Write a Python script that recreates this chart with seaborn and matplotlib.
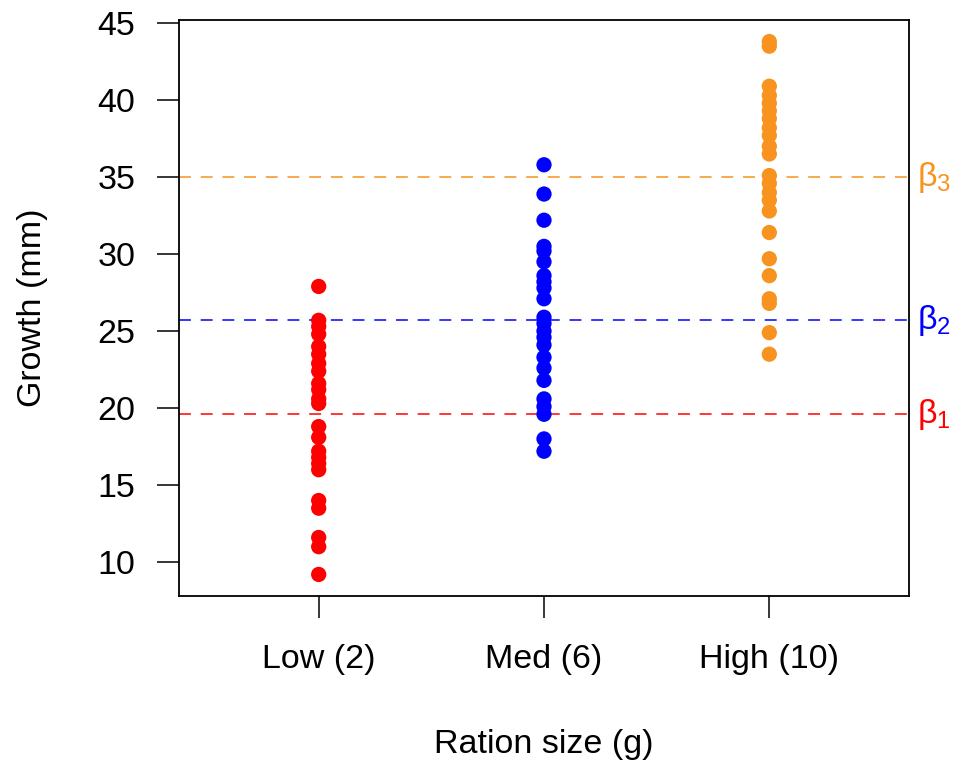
import numpy as np
import pandas as pd
import seaborn as sns
import matplotlib.pyplot as plt

# Data
groups = ['Low (2)', 'Med (6)', 'High (10)']
low_growth = [27.9, 25.7, 25.3, 24.8, 24.0, 23.5, 22.9, 22.4, 21.6, 21.2, 20.6, 20.3,
              18.8, 18.1, 17.2, 16.8, 16.4, 16.0, 14.0, 13.5, 11.6, 11.0, 9.2]
med_growth = [35.8, 33.9, 32.2, 30.5, 30.2, 29.5, 28.6, 28.2, 27.8, 27.1, 25.9, 25.5,
              25.0, 24.6, 24.1, 23.3, 22.6, 21.8, 20.6, 20.1, 19.6, 18.0, 17.2]
high_growth = [43.8, 43.5, 40.9, 40.3, 39.8, 39.3, 38.8, 38.2, 37.7, 37.0, 36.5, 35.1,
               34.6, 34.0, 33.5, 32.8, 31.4, 29.7, 28.6, 27.1, 26.8, 24.9, 23.5]
betas = [19.6, 25.7, 35.0]
beta_labels = [r'$\beta_1$', r'$\beta_2$', r'$\beta_3$']
colors = ['#ff0000', '#0000ff', '#f7931e']
y_ticks = [10, 15, 20, 25, 30, 35, 40, 45]

df = pd.DataFrame({
    'ration': [groups[0]] * len(low_growth) + [groups[1]] * len(med_growth) + [groups[2]] * len(high_growth),
    'growth': low_growth + med_growth + high_growth,
})

sns.set_style('white')
plt.rcParams['font.family'] = ['Liberation Sans', 'DejaVu Sans']
plt.rcParams['mathtext.fontset'] = 'custom'
plt.rcParams['mathtext.rm'] = 'Liberation Sans'
plt.rcParams['mathtext.it'] = 'Liberation Sans'
plt.rcParams['text.color'] = 'black'
plt.rcParams['axes.labelcolor'] = 'black'

fs = 24.5

fig, ax = plt.subplots(figsize=(9.55, 7.67), dpi=100)
fig.subplots_adjust(left=179 / 955, right=909 / 955, top=1 - 20 / 767, bottom=1 - 596 / 767)

sns.stripplot(data=df, x='ration', y='growth', hue='ration', order=groups, hue_order=groups,
              palette=colors, jitter=False, size=11, linewidth=0, legend=False, ax=ax, zorder=3)

# horizontal lines for the group means
for b, lab, c in zip(betas, beta_labels, colors):
    ax.axhline(b, color=c, lw=1.1, linestyle=(0, (7.8, 6.4)), zorder=2)
    ax.text(1.011, b, lab, color=c, fontsize=fs, va='center', ha='left',
            transform=ax.get_yaxis_transform())

ax.set_xlim(-0.62, 2.62)
ax.set_ylim(7.8, 45.2)
ax.set_yticks(y_ticks)

for s in ax.spines.values():
    s.set_visible(True)
    s.set_color('black')
    s.set_linewidth(1.3)

ax.tick_params(axis='both', direction='out', length=15.5, width=1.1, color='black',
               labelsize=fs, labelcolor='black', left=True, bottom=True)
ax.tick_params(axis='y', pad=16)
ax.tick_params(axis='x', pad=19)

ax.set_xlabel('Ration size (g)', fontsize=fs, color='black')
ax.set_ylabel('Growth (mm)', fontsize=fs, color='black')
ax.xaxis.set_label_coords(0.5, -(745 - 596) / 576)
ax.xaxis.label.set_va('center')
ax.yaxis.set_label_coords(-(179 - 33) / 730, 0.5)
ax.yaxis.label.set_va('center')

plt.savefig('out.png', dpi=100)
